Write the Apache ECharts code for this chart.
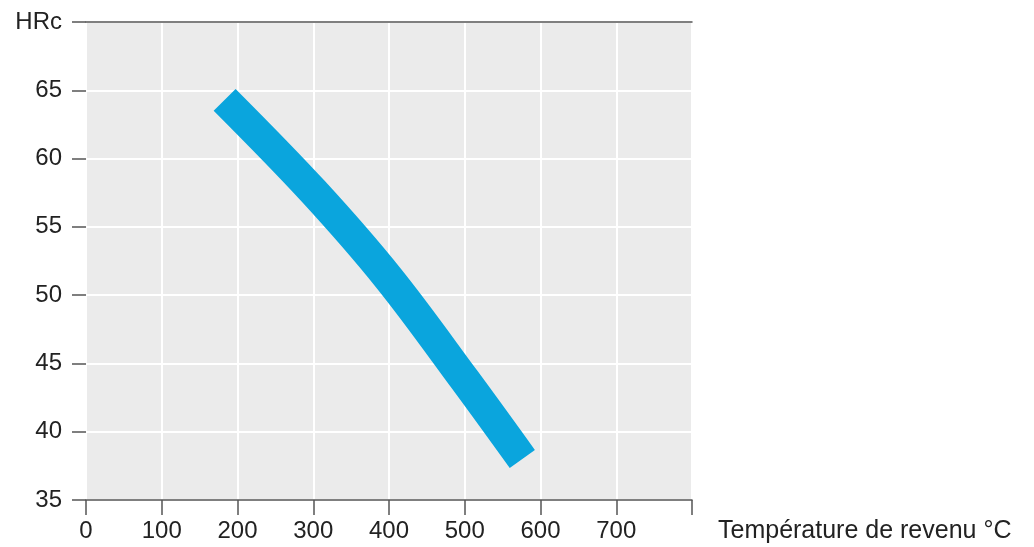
<!DOCTYPE html>
<html>
<head>
<meta charset="utf-8">
<script src="https://cdn.jsdelivr.net/npm/echarts@6/dist/echarts.min.js"></script>
<style>html,body{margin:0;padding:0;background:#fff;}#c{width:1034px;height:547px;}</style>
</head>
<body>
<div id="c"></div>
<script>
const xTicks = [0, 100, 200, 300, 400, 500, 600, 700, 800];
const yTicks = [35, 40, 45, 50, 55, 60, 65, 70];
const temperature = [183, 300, 400, 500, 576];
const hardness = [64.3, 57.6, 51.2, 43.8, 38.0];

const chart = echarts.init(document.getElementById('c'), null, {renderer: 'canvas'});
const font = 'Liberation Sans, Arial, sans-serif';
chart.setOption({
  animation: false,
  grid: {left: 86, right: 342, top: 22, bottom: 47, show: true, backgroundColor: '#ebebeb', borderWidth: 0},
  xAxis: [{
    type: 'value', min: 0, max: 800, interval: 100, position: 'bottom',
    axisLine: {show: true, lineStyle: {color: '#555', width: 1.5}},
    axisTick: {show: true, length: 15, lineStyle: {color: '#555', width: 1.5}},
    axisLabel: {margin: 19, fontSize: 24, color: '#222', fontFamily: font,
      formatter: v => (v === 800 ? '' : String(v))},
    splitLine: {show: true, lineStyle: {color: '#ffffff', width: 2}},
    name: 'Température de revenu °C', nameLocation: 'end', nameGap: 26,
    nameTextStyle: {fontSize: 25, color: '#222', fontFamily: font, verticalAlign: 'top', padding: [19, 0, 0, 0]}
  }, {
    type: 'value', min: 0, max: 800, position: 'top',
    axisLine: {show: true, lineStyle: {color: '#555', width: 1.5}},
    axisTick: {show: false}, axisLabel: {show: false}, splitLine: {show: false}
  }],
  yAxis: {
    type: 'value', min: 35, max: 70, interval: 5,
    axisLine: {show: false},
    axisTick: {show: true, length: 14, lineStyle: {color: '#555', width: 1.5}},
    axisLabel: {margin: 24, fontSize: 24, color: '#222', fontFamily: font,
      formatter: v => (v === 70 ? 'HRc' : String(v))},
    splitLine: {show: true, lineStyle: {color: '#ffffff', width: 2}}
  },
  series: [{
    type: 'line', xAxisIndex: 0,
    data: temperature.map((t, i) => [t, hardness[i]]),
    smooth: 0.35, showSymbol: false,
    lineStyle: {color: '#0aa5dd', width: 31, cap: 'butt'}
  }]
});
</script>
</body>
</html>
